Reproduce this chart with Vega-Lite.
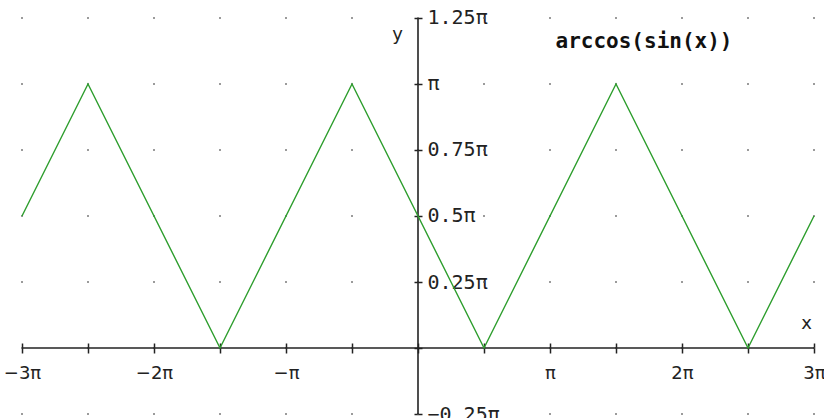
{
  "$schema": "https://vega.github.io/schema/vega-lite/v6.json",
  "width": 824,
  "height": 418,
  "autosize": {"type": "none"},
  "padding": 0,
  "background": "white",
  "config": {"view": {"stroke": null}},
  "layer": [
    {
      "data": {
        "values": [
          {"x": -3, "y": [-0.25, 0, 0.25, 0.5, 0.75, 1, 1.25]},
          {"x": -2.5, "y": [-0.25, 0, 0.25, 0.5, 0.75, 1, 1.25]},
          {"x": -2, "y": [-0.25, 0, 0.25, 0.5, 0.75, 1, 1.25]},
          {"x": -1.5, "y": [-0.25, 0, 0.25, 0.5, 0.75, 1, 1.25]},
          {"x": -1, "y": [-0.25, 0, 0.25, 0.5, 0.75, 1, 1.25]},
          {"x": -0.5, "y": [-0.25, 0, 0.25, 0.5, 0.75, 1, 1.25]},
          {"x": 0, "y": [-0.25, 0, 0.25, 0.5, 0.75, 1, 1.25]},
          {"x": 0.5, "y": [-0.25, 0, 0.25, 0.5, 0.75, 1, 1.25]},
          {"x": 1, "y": [-0.25, 0, 0.25, 0.5, 0.75, 1, 1.25]},
          {"x": 1.5, "y": [-0.25, 0, 0.25, 0.5, 0.75, 1, 1.25]},
          {"x": 2, "y": [-0.25, 0, 0.25, 0.5, 0.75, 1, 1.25]},
          {"x": 2.5, "y": [-0.25, 0, 0.25, 0.5, 0.75, 1, 1.25]},
          {"x": 3, "y": [-0.25, 0, 0.25, 0.5, 0.75, 1, 1.25]}
        ]
      },
      "transform": [{"flatten": ["y"]}],
      "mark": {"type": "square", "size": 3, "color": "#555555", "opacity": 0.9},
      "encoding": {
        "x": {
          "field": "x", "type": "quantitative",
          "scale": {"domain": [-3.16667, 3.07576], "nice": false, "zero": false},
          "axis": {
            "orient": "bottom",
            "offset": -75,
            "title": "x",
            "titleX": 806,
            "titleY": -20,
            "titleAngle": 0,
            "titleAlign": "center",
            "titleBaseline": "middle",
            "titleFont": "DejaVu Sans",
            "titleFontSize": 18,
            "titleFontWeight": "normal",
            "titleColor": "#222222",
            "values": [-3, -2.5, -2, -1.5, -1, -0.5, 0, 0.5, 1, 1.5, 2, 2.5, 3],
            "labelExpr": "datum.value == 0 || datum.value % 1 != 0 ? '' : datum.value == 1 ? 'π' : datum.value == -1 ? '−π' : (datum.value < 0 ? '−' + abs(datum.value) : datum.value) + 'π'",
            "labelOverlap": false,
            "labelFlush": false,
            "labelBound": false,
            "labelFont": "DejaVu Sans",
            "labelFontSize": 18,
            "labelColor": "#222222",
            "labelPadding": 11,
            "tickSize": 10,
            "tickWidth": 1.5,
            "tickColor": "#222222",
            "domain": false,
            "grid": false
          }
        },
        "y": {
          "field": "y", "type": "quantitative",
          "scale": {"domain": [-0.26515, 1.31818], "nice": false, "zero": false},
          "axis": {
            "orient": "right",
            "offset": -410,
            "title": "y",
            "titleX": -17,
            "titleY": 34,
            "titleAngle": 0,
            "titleAlign": "center",
            "titleBaseline": "middle",
            "titleFont": "DejaVu Sans",
            "titleFontSize": 18,
            "titleFontWeight": "normal",
            "titleColor": "#222222",
            "values": [-0.25, 0, 0.25, 0.5, 0.75, 1, 1.25],
            "labelExpr": "datum.value == 0 ? '' : datum.value == 1 ? 'π' : (datum.value < 0 ? '−' + abs(datum.value) : datum.value) + 'π'",
            "labelOverlap": false,
            "labelFlush": false,
            "labelBound": false,
            "labelAlign": "left",
            "labelBaseline": "middle",
            "labelFont": "DejaVu Sans Mono",
            "labelFontSize": 20,
            "labelColor": "#222222",
            "labelPadding": 5,
            "tickSize": 8,
            "tickWidth": 1.5,
            "tickColor": "#222222",
            "domain": false,
            "grid": false
          }
        }
      }
    },
    {
      "data": {
        "values": [
          {"x": -3, "x2": 3, "y": 0, "y2": 0},
          {"x": 0, "x2": 0, "y": -0.25, "y2": 1.25}
        ]
      },
      "mark": {"type": "rule", "color": "#222222", "strokeWidth": 1.6},
      "encoding": {
        "x": {"field": "x", "type": "quantitative"},
        "x2": {"field": "x2"},
        "y": {"field": "y", "type": "quantitative"},
        "y2": {"field": "y2"}
      }
    },
    {
      "data": {
        "values": [
          {"x": -3, "y": 0.5},
          {"x": -2.5, "y": 1},
          {"x": -1.5, "y": 0},
          {"x": -0.5, "y": 1},
          {"x": 0.5, "y": 0},
          {"x": 1.5, "y": 1},
          {"x": 2.5, "y": 0},
          {"x": 3, "y": 0.5}
        ]
      },
      "mark": {"type": "line", "color": "#2e9e2e", "strokeWidth": 1.4},
      "encoding": {
        "x": {"field": "x", "type": "quantitative"},
        "y": {"field": "y", "type": "quantitative"}
      }
    },
    {
      "data": {"values": [{"label": "arccos(sin(x))"}]},
      "mark": {
        "type": "text",
        "font": "DejaVu Sans Mono",
        "fontSize": 21,
        "fontWeight": "bold",
        "color": "#111111",
        "align": "center",
        "baseline": "middle"
      },
      "encoding": {
        "x": {"datum": 1.712, "type": "quantitative"},
        "y": {"datum": 1.159, "type": "quantitative"},
        "text": {"field": "label"}
      }
    }
  ]
}
